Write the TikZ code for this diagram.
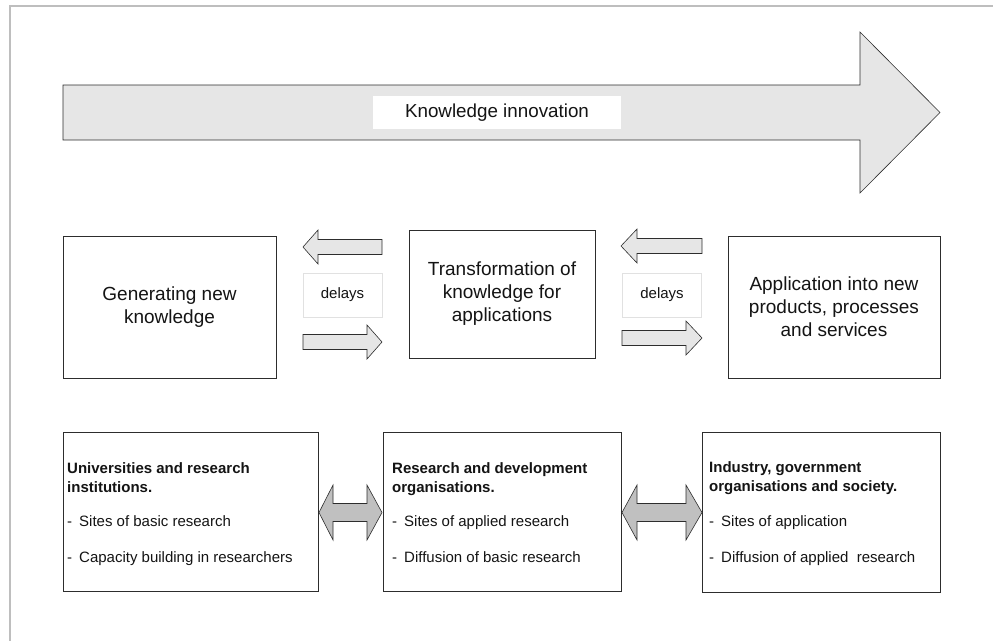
\documentclass[tikz,border=0pt]{standalone}
\usepackage{fontspec}
\setmainfont{Liberation Sans}
\definecolor{framec}{RGB}{190,190,190}
\definecolor{boxc}{RGB}{45,45,45}
\definecolor{lightfill}{RGB}{230,230,230}
\definecolor{dblfill}{RGB}{192,192,192}
\definecolor{delayc}{RGB}{225,225,225}
\definecolor{txt}{RGB}{20,20,20}
\begin{document}
\begin{tikzpicture}[x=1pt,y=-1pt,
  box/.style={draw=boxc, line width=0.8pt, fill=white, inner sep=0pt, text=txt},
  midtext/.style={font=\fontsize{19}{23}\selectfont, align=center},
  delaybox/.style={draw=delayc, line width=0.6pt, fill=white, minimum width=79pt, minimum height=44pt, inner sep=0pt, font=\fontsize{15}{18}\selectfont, text=txt},
  blk/.style={draw=boxc, line width=0.6pt, fill=lightfill},
  dbl/.style={draw=boxc, line width=0.6pt, fill=dblfill},
  btxt/.style={anchor=base west, inner sep=0pt, font=\fontsize{15}{18}\selectfont, text=txt},
  bbold/.style={btxt, font=\fontsize{15}{18}\selectfont\bfseries}]
\useasboundingbox (0,0) rectangle (993,641);
% frame
\draw[framec, line width=1.5pt] (993,6) -- (10,6) -- (10,641);
% big arrow
\draw[blk] (63,85) -- (860,85) -- (860,32) -- (940,112.5) -- (860,193) -- (860,140) -- (63,140) -- cycle;
\node[fill=white, minimum width=248pt, minimum height=33pt, inner sep=0pt, font=\fontsize{18.8}{22}\selectfont, text=txt] (ki) at (497,112.5) {Knowledge innovation};
% middle boxes
\node[box, midtext, minimum width=213pt, minimum height=142pt] (gen) at (169.5,307) {Generating new\\knowledge};
\node[box, midtext, minimum width=186pt, minimum height=128pt] (tra) at (502,294) {Transformation of\\knowledge for\\applications};
\node[box, midtext, minimum width=212pt, minimum height=142pt] (app) at (834,307) {Application into new\\products, processes\\and services};
% delays
\node[delaybox] (d1) at (342.5,295) {delays};
\node[delaybox] (d2) at (662,295) {delays};
% small arrows left pair
\draw[blk] (303,247) -- (318,230) -- (318,239.5) -- (382,239.5) -- (382,254.5) -- (318,254.5) -- (318,264) -- cycle;
\draw[blk] (382,342) -- (367,325) -- (367,334.5) -- (303,334.5) -- (303,349.5) -- (367,349.5) -- (367,359) -- cycle;
% small arrows right pair
\draw[blk] (621,246) -- (637,229) -- (637,238.5) -- (702,238.5) -- (702,253.5) -- (637,253.5) -- (637,263) -- cycle;
\draw[blk] (702,338) -- (686,321) -- (686,330.5) -- (622,330.5) -- (622,345.5) -- (686,345.5) -- (686,355) -- cycle;
% bottom boxes
\node[box, minimum width=255pt, minimum height=159pt] (uni) at (190.5,511.5) {};
\node[box, minimum width=238pt, minimum height=159pt] (rnd) at (502,511.5) {};
\node[box, minimum width=238pt, minimum height=160pt] (ind) at (821,512) {};
% double arrows
\draw[dbl] (319,512.5) -- (333,485) -- (333,503.5) -- (367,503.5) -- (367,485) -- (382,512.5) -- (367,540) -- (367,521.5) -- (333,521.5) -- (333,540) -- cycle;
\draw[dbl] (622,512.5) -- (637,485) -- (637,503.5) -- (686,503.5) -- (686,485) -- (702,512.5) -- (686,540) -- (686,521.5) -- (637,521.5) -- (637,540) -- cycle;
% bottom texts
\node[bbold] (u1) at (67,473) {Universities and research};
\node[bbold] (u2) at (67,492) {institutions.};
\node[btxt] (u3) at (67,526) {-\hspace{7pt}Sites of basic research};
\node[btxt] (u4) at (67,562) {-\hspace{7pt}Capacity building in researchers};
\node[bbold] (r1) at (392,473) {Research and development};
\node[bbold] (r2) at (392,492) {organisations.};
\node[btxt] (r3) at (392,526) {-\hspace{7pt}Sites of applied research};
\node[btxt] (r4) at (392,562) {-\hspace{7pt}Diffusion of basic research};
\node[bbold] (i1) at (709,472) {Industry, government};
\node[bbold] (i2) at (709,491) {organisations and society.};
\node[btxt] (i3) at (709,526) {-\hspace{7pt}Sites of application};
\node[btxt] (i4) at (709,562) {-\hspace{7pt}Diffusion of applied\ \ research};
\end{tikzpicture}
\end{document}
